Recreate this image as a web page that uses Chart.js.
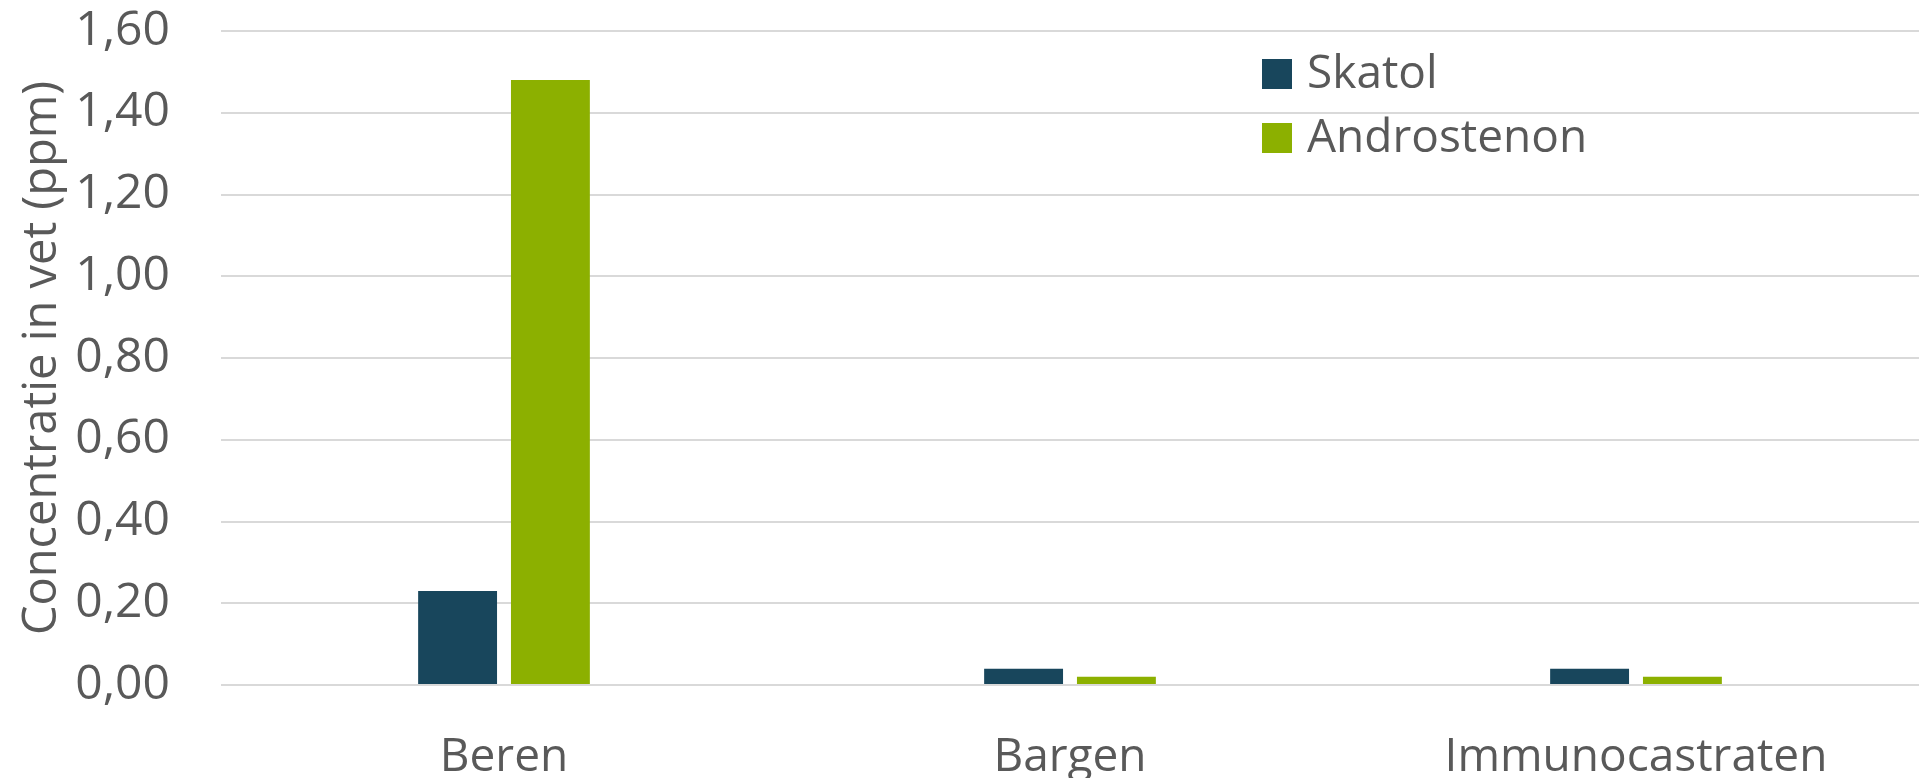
<!DOCTYPE html>
<html>
<head>
<meta charset="utf-8">
<script src="https://cdn.jsdelivr.net/npm/chart.js@4.4.1/dist/chart.umd.min.js"></script>
<style>
  html, body { margin: 0; padding: 0; background: #fff; }
  #wrap { width: 1919px; height: 778px; }
</style>
</head>
<body>
<div id="wrap"><canvas id="myChart" width="1919" height="778"></canvas></div>
<script>
// data
const categories = ['Beren', 'Bargen', 'Immunocastraten'];
const skatol = [0.23, 0.04, 0.04];
const androstenon = [1.48, 0.02, 0.02];
const seriesNames = ['Skatol', 'Androstenon'];
const yTicks = [0, 0.2, 0.4, 0.6, 0.8, 1.0, 1.2, 1.4, 1.6];

const textColor = '#595959';
const fontFamily = '"Open Sans", "Liberation Sans", sans-serif';

//legend drawn inside the plot, top right like the original
const boxLegend = {
  id: 'boxLegend',
  afterDraw(chart) {
    const ctx = chart.ctx;
    ctx.save();
    ctx.font = '46px ' + fontFamily;
    ctx.textBaseline = 'middle';
    chart.data.datasets.forEach((ds, i) => {
      const y = 59 + i * 64;
      ctx.fillStyle = ds.backgroundColor;
      ctx.fillRect(1262, y, 30, 30);
      ctx.fillStyle = textColor;
      ctx.fillText(ds.label, 1307, y + 16);
    });
    ctx.restore();
  }
};

const chartData = {
  labels: categories,
  datasets: [
    { label: seriesNames[0], data: skatol, backgroundColor: '#18465c' },
    { label: seriesNames[1], data: androstenon, backgroundColor: '#8cb000' }
  ]
};

const chartConfig = {
  type: 'bar',
  data: chartData,
  options: {
    responsive: false,
    animation: false,
    layout: { padding: { top: 31, right: 0, left: 0, bottom: 0 } },
    datasets: { bar: { categoryPercentage: 0.328, barPercentage: 0.85 } },
    plugins: { legend: { display: false }, tooltip: { enabled: false } },
    scales: {
      x: {
        grid: { display: false },
        border: { display: false },
        ticks: { color: textColor, font: { family: fontFamily, size: 46 }, padding: 37 },
        afterFit(scale) { scale.height = 93; scale.paddingLeft = 0; scale.paddingRight = 0; }
      },
      y: {
        min: 0,
        max: 1.6,
        afterBuildTicks(scale) { scale.ticks = yTicks.map(v => ({ value: v })); },
        grid: { color: '#d9d9d9', lineWidth: 2, drawTicks: false },
        border: { display: false },
        ticks: {
          color: textColor,
          font: { family: fontFamily, size: 48 },
          padding: 51,
          callback: v => v.toFixed(2).replace('.', ',')
        },
        title: {
          display: true,
          text: 'Concentratie in vet (ppm)',
          color: textColor,
          font: { family: fontFamily, size: 47 },
          padding: { top: 14, bottom: 0 }
        },
        afterFit(scale) { scale.width = 221; scale.paddingTop = 0; scale.paddingBottom = 0; }
      }
    }
  },
  plugins: [boxLegend]
};

const myChart = new Chart(document.getElementById('myChart'), chartConfig);
</script>
</body>
</html>
